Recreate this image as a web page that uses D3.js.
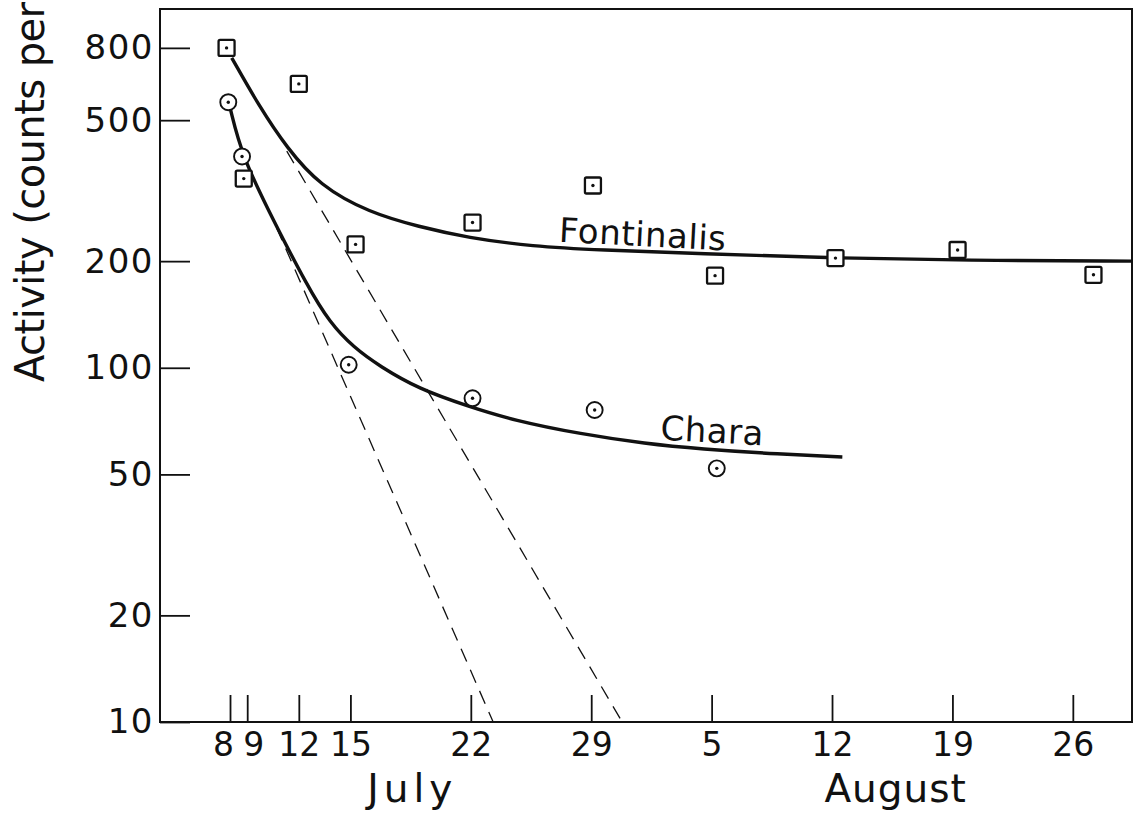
<!DOCTYPE html>
<html><head><meta charset="utf-8">
<script src="https://cdn.jsdelivr.net/npm/d3@7"></script>
<style>
html,body{margin:0;padding:0;background:#fff;}
svg{display:block;}
text{font-family:"DejaVu Sans",sans-serif;fill:#111;}
</style>
</head><body>
<svg id="chart" width="1134" height="817"></svg>
<script>
// ---- data (days counted from 1 July; Aug 5 = 36) ----
const xTickDays = [8, 9, 12, 15, 22, 29, 36, 43, 50, 57];
const xTickLabels = ["8", "9", "12", "15", "22", "29", "5", "12", "19", "26"];
const yTickValues = [10, 20, 50, 100, 200, 500, 800];
const yTickLabels = ["10", "20", "50", "100", "200", "500", "800"];
const monthNames = ["July", "August"];
const monthCenters = [18.6, 46.7];

const fontinalisDays = [7.8, 8.8, 12.0, 15.3, 22.1, 29.1, 36.2, 43.2, 50.3, 58.2];
const fontinalisValues = [800, 342, 633, 223, 257, 327, 182, 204, 215, 183];
const charaDays = [7.9, 8.7, 14.9, 22.1, 29.2, 36.3];
const charaValues = [562, 395, 102, 82, 76, 52];

const fontinalisCurveDays = [8.1, 9.7, 11.3, 13.2, 16.1, 19.0, 21.8, 25.6, 29.5, 35.3, 43.1, 50.8, 60.4];
const fontinalisCurveValues = [750, 547, 418, 327, 274, 250, 233, 220, 215, 210, 204, 201, 200];
const charaCurveDays = [8.0, 8.7, 10.5, 12.5, 13.8, 15.2, 16.7, 19.0, 21.8, 24.5, 28.4, 32.2, 35.3, 40.0, 43.6];
const charaCurveValues = [543, 395, 262, 170, 134, 114, 101, 87, 78, 71, 65, 61, 59, 57, 56];

const fontinalisDashDays = [11.3, 30.8];
const fontinalisDashValues = [409, 10];
const charaDashDays = [10.7, 23.3];
const charaDashValues = [249, 10];

const seriesNames = ["Fontinalis", "Chara"];
const labelDays = [27.1, 33.0];
const labelValues = [227, 62.6];
const yTitle = "Activity (counts per";

// ---- layout ----
const mLeft = 160, mRight = 1132, mTop = 9, mBottom = 722;
const svg = d3.select("#chart");
const ink = "#111";

const x = d3.scaleLinear().domain([3.93, 60.44]).range([mLeft, mRight]);
const y = d3.scaleLog().domain([10, 1030]).range([mBottom, mTop]);

svg.append("defs").append("clipPath").attr("id", "plot")
  .append("rect").attr("x", mLeft).attr("y", mTop).attr("width", mRight - mLeft).attr("height", mBottom - mTop);

// axes
const yAxis = d3.axisLeft(y).tickValues(yTickValues)
  .tickFormat((d, i) => yTickLabels[i]).tickSizeInner(-30).tickSizeOuter(0).tickPadding(6);
const gy = svg.append("g").attr("transform", `translate(${mLeft},0)`).call(yAxis);
gy.select(".domain").remove();
gy.selectAll(".tick line").attr("stroke", ink).attr("stroke-width", 1.8);
gy.selectAll(".tick text").attr("font-size", 34).attr("letter-spacing", 1.5)
  .attr("font-family", "DejaVu Sans").attr("fill", ink);

const xAxis = d3.axisBottom(x).tickValues(xTickDays)
  .tickFormat((d, i) => xTickLabels[i]).tickSizeInner(-27).tickSizeOuter(0).tickPadding(11);
const gx = svg.append("g").attr("transform", `translate(0,${mBottom})`).call(xAxis);
gx.select(".domain").remove();
gx.selectAll(".tick line").attr("stroke", ink).attr("stroke-width", 1.8);
gx.selectAll(".tick text").attr("font-size", 33)
  .attr("font-family", "DejaVu Sans").attr("fill", ink)
  .attr("dx", (d, i) => i === 0 ? -7 : (i === 1 ? 6 : 0));

// frame
svg.append("rect").attr("x", mLeft).attr("y", mTop).attr("width", mRight - mLeft).attr("height", mBottom - mTop)
  .attr("fill", "none").attr("stroke", ink).attr("stroke-width", 2);

// month labels
svg.selectAll("text.month").data(monthNames).join("text").attr("class", "month")
  .attr("x", (d, i) => x(monthCenters[i])).attr("y", 802)
  .attr("text-anchor", "middle").attr("font-size", 39)
  .attr("letter-spacing", (d, i) => i === 0 ? 5 : 1)
  .text(d => d);

// y title
svg.append("text").attr("transform", "translate(44,382) rotate(-90)")
  .attr("font-size", 40).attr("text-anchor", "start").attr("textLength", 380).text(yTitle);

// curves
const plot = svg.append("g").attr("clip-path", "url(#plot)");
const line = d3.line().x(d => x(d[0])).y(d => y(d[1])).curve(d3.curveBasis);
const straight = d3.line().x(d => x(d[0])).y(d => y(d[1]));

plot.append("path").attr("d", straight(d3.zip(fontinalisDashDays, fontinalisDashValues)))
  .attr("fill", "none").attr("stroke", ink).attr("stroke-width", 1.3).attr("stroke-dasharray", "14 9");
plot.append("path").attr("d", straight(d3.zip(charaDashDays, charaDashValues)))
  .attr("fill", "none").attr("stroke", ink).attr("stroke-width", 1.3).attr("stroke-dasharray", "14 9");

plot.append("path").attr("d", line(d3.zip(fontinalisCurveDays, fontinalisCurveValues)))
  .attr("fill", "none").attr("stroke", ink).attr("stroke-width", 3.4);
plot.append("path").attr("d", line(d3.zip(charaCurveDays, charaCurveValues)))
  .attr("fill", "none").attr("stroke", ink).attr("stroke-width", 3.4);

// markers
const sq = 16;
const gF = plot.append("g");
gF.selectAll("rect").data(d3.zip(fontinalisDays, fontinalisValues)).join("rect")
  .attr("x", d => x(d[0]) - sq / 2).attr("y", d => y(d[1]) - sq / 2)
  .attr("width", sq).attr("height", sq).attr("rx", 1.5)
  .attr("fill", "#fff").attr("stroke", ink).attr("stroke-width", 2.3);
gF.selectAll("circle").data(d3.zip(fontinalisDays, fontinalisValues)).join("circle")
  .attr("cx", d => x(d[0])).attr("cy", d => y(d[1])).attr("r", 1.7).attr("fill", ink);

const gC = plot.append("g");
gC.selectAll("circle.ring").data(d3.zip(charaDays, charaValues)).join("circle").attr("class", "ring")
  .attr("cx", d => x(d[0])).attr("cy", d => y(d[1])).attr("r", 8)
  .attr("fill", "#fff").attr("stroke", ink).attr("stroke-width", 1.9);
gC.selectAll("circle.dot").data(d3.zip(charaDays, charaValues)).join("circle").attr("class", "dot")
  .attr("cx", d => x(d[0])).attr("cy", d => y(d[1])).attr("r", 1.7).attr("fill", ink);

// series labels
svg.selectAll("text.series").data(seriesNames).join("text").attr("class", "series")
  .attr("transform", (d, i) => `translate(${x(labelDays[i])},${y(labelValues[i])}) rotate(3)`)
  .attr("font-size", 34).attr("letter-spacing", 0.5)
  .text(d => d);
</script>
</body></html>
